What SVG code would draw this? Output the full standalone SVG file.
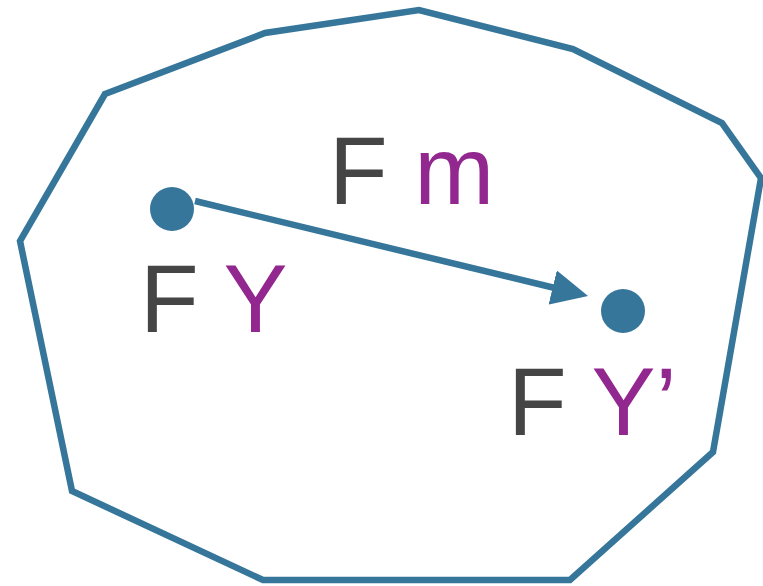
<svg xmlns="http://www.w3.org/2000/svg" width="763" height="586" viewBox="0 0 763 586">
<style>
.shape{fill:none;stroke:#36769a;stroke-width:6.5;stroke-linejoin:miter}
.dot{fill:#36769a}
.lbl{font-family:"Liberation Sans",Arial,sans-serif;font-size:96px}
.g{fill:#454545}
.p{fill:#92278f}
</style>
<defs>
<marker id="ah" markerWidth="5.6" markerHeight="5.4" refX="1" refY="2.7" orient="auto" markerUnits="strokeWidth" viewBox="0 0 5.6 5.4">
<path d="M0,0 L5.6,2.7 L0,5.4 Z" fill="#36769a"/>
</marker>
</defs>
<g id="region">
<polygon class="shape" points="105,94 265,33 419,10 573,49 722,123 761,178 713,452 570,580 263,580 72,491 20,241"/>
</g>
<g id="nodeY">
<circle class="dot" cx="172" cy="209" r="22"/>
<text class="lbl" x="140" y="332"><tspan class="g">F </tspan><tspan class="p">Y</tspan></text>
</g>
<g id="nodeY2">
<circle class="dot" cx="623" cy="311" r="22"/>
<text class="lbl" x="508" y="435"><tspan class="g">F </tspan><tspan class="p">Y’</tspan></text>
</g>
<g id="connectors">
<line x1="195" y1="201" x2="559" y2="289" stroke="#36769a" stroke-width="6.5" marker-end="url(#ah)"/>
<text class="lbl" x="329" y="204"><tspan class="g">F </tspan><tspan class="p">m</tspan></text>
</g>
</svg>
